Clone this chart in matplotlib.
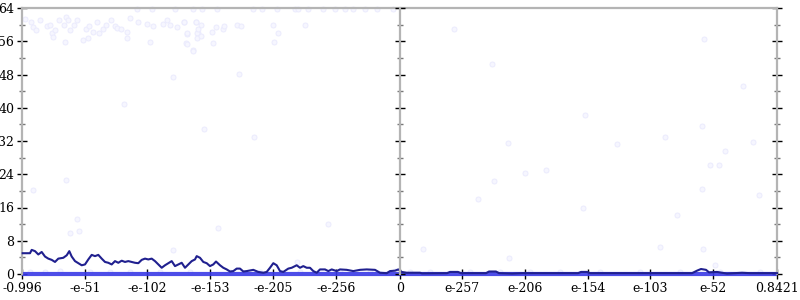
import matplotlib
matplotlib.use('Agg')
import matplotlib.pyplot as plt
from matplotlib.ticker import MultipleLocator

# ---- data ----
tick_pos = [0, 63, 125, 188, 251, 314, 378, 440, 503, 566, 628, 691, 755]
tick_labels = ['-0.996', '-e-51', '-e-102', '-e-153', '-e-205', '-e-256', '0',
               'e-257', 'e-206', 'e-154', 'e-103', 'e-52', '0.8421']

err_x = [0.7, 8, 9.7, 13, 16.3, 19.7, 23, 26.3, 29.7, 33, 36.3, 41.3, 44.7, 47.3, 49.7, 53,
         56.3, 59.7, 63, 66.3, 69.7, 73, 76.3, 79.7, 83, 86.3, 89.7, 93, 96.3, 99.7, 103,
         106.3, 109.7, 113, 116.3, 119.7, 123, 126.3, 129.7, 133, 136.3, 139.7, 143, 146.3,
         149.7, 153, 156.3, 159.7, 163, 166.3, 169.7, 173, 174.7,
         178, 181.3, 184.7, 188, 191.3, 194, 198, 201.3, 204.7, 208, 211.3, 214.7, 218, 221.3,
         224.7, 231.3, 236.3, 241.3, 244.7, 248, 251.3, 254.7, 258, 261.3, 266.3, 269.7, 274.7,
         278, 281.3, 284.7, 288, 291.3, 294.7, 298, 303, 306.3, 309.7, 314.7, 318, 324.7, 331.3,
         338, 344.7, 353, 358, 364.7, 368, 373, 376.3, 379.7, 384.7,
         398, 400, 425, 428, 436, 439, 464, 467, 474, 477, 490, 500, 520, 556, 559, 565, 568,
         600, 640, 670, 675, 679, 684, 687, 695, 705, 720, 728, 755]
err_y = [5.0, 5.0, 5.8, 5.5, 4.7, 5.3, 4.2, 3.7, 3.4, 2.9, 3.7, 3.9, 4.5, 5.5, 4.2, 3.1,
         2.6, 2.1, 2.3, 3.5, 4.6, 4.3, 4.6, 3.7, 2.9, 2.7, 2.3, 3.1, 2.7, 3.2, 2.9,
         3.1, 2.9, 2.7, 2.6, 3.4, 3.7, 3.5, 3.7, 3.1, 2.3, 1.5, 2.1, 2.6,
         3.1, 1.9, 2.3, 2.7, 1.5, 2.3, 3.1, 3.5, 4.3,
         3.9, 2.9, 2.6, 1.9, 2.3, 3.0, 2.1, 1.5, 1.1, 0.6, 0.7, 1.3, 1.3, 0.6,
         0.7, 1.0, 0.5, 0.3, 0.5, 1.5, 2.6, 2.1, 0.7, 0.5, 1.3, 1.5, 2.1,
         1.5, 1.9, 1.5, 1.5, 0.7, 0.3, 1.1, 1.1, 0.7, 1.1, 0.7, 1.1, 1.0, 0.7,
         1.0, 1.1, 1.0, 0.3, 0.2, 0.7, 0.8, 1.1, 0.5, 0.3,
         0.3, 0.15, 0.2, 0.5, 0.5, 0.2, 0.2, 0.6, 0.6, 0.2, 0.1, 0.2, 0.2, 0.2, 0.5, 0.5, 0.2,
         0.2, 0.2, 0.2, 0.8, 1.2, 1.0, 0.4, 0.5, 0.1, 0.3, 0.2, 0.2]

base_x = [0, 100, 200, 300, 400, 500, 600, 700, 755]
base_y = [0, 0, 0, 0, 0, 0, 0, 0, 0]

pt_x = [3, 8.7, 11.3, 18, 14, 24.7, 28, 29.7, 31.3, 33, 37.3, 42, 44, 46.3, 48, 52, 55.3, 43,
        60.7, 64, 67.3, 66.3, 71.3, 74.7, 77.3, 81.3, 84, 88.7, 93, 95.3, 98.7, 104.7, 105.3,
        108, 116.3, 124.7, 128, 131.3, 141.3, 144.7, 148, 154.7, 162, 164.7, 164, 170.7, 174,
        176.3, 151.3, 115, 130, 153,
        171, 180, 195, 231, 240, 255, 273, 276, 286, 301, 313, 323, 331, 343, 355, 371,
        162, 174, 179, 165, 175, 176, 175, 179, 165, 171, 190, 194, 191, 201, 202, 215, 219,
        251, 256, 252, 283, 217, 182, 232,
        102, 44, 11, 55, 48, 57, 151, 196, 306, 275,
        432, 470, 563, 682, 721, 680, 643,
        486, 472, 456, 503, 524, 561, 595, 655, 680, 688, 697, 703, 731, 737, 401, 638, 681,
        487, 693,
        8, 23, 38, 68, 88, 108, 138, 168, 208, 238, 278, 318, 348, 373, 388, 408, 448, 478,
        508, 538, 578, 618, 658, 698, 738]
pt_y = [61.4, 60.7, 59.5, 61.1, 58.6, 59.7, 59.9, 57.9, 57.0, 58.6, 61.1, 59.9, 61.8, 61.0,
        58.6, 59.9, 61.0, 55.9,
        56.2, 58.9, 59.7, 56.7, 58.3, 60.7, 58.1, 58.9, 59.9, 61.0, 59.7, 59.1, 58.9, 58.3, 56.7,
        61.5, 60.7, 60.2, 55.7, 59.7, 60.2, 61.0, 59.9, 59.4, 60.7, 57.8, 55.5, 53.9, 60.7,
        57.9, 47.4, 63.8, 63.8, 63.8,
        63.8, 63.8, 63.8, 63.8, 63.8, 63.8, 63.8, 63.8, 63.8, 63.8, 63.8, 63.8, 63.8, 63.8, 63.8, 63.8,
        60.6, 60.6, 59.9, 58.0, 58.0, 58.9, 56.8, 57.3, 55.3, 53.7, 58.2, 59.4, 55.6, 59.0, 59.7, 59.9, 59.7,
        59.9, 58.0, 55.8, 59.9, 48.1, 34.9, 33.0,
        40.9, 22.6, 20.2, 13.2, 9.9, 10.4, 5.8, 11.1, 12.0, 2.9,
        59.0, 50.5, 38.3, 56.5, 45.2, 35.6, 33.0,
        31.5, 22.4, 18.0, 24.3, 25.0, 15.9, 31.3, 14.2, 20.5, 26.2, 26.2, 29.6, 31.8, 19.0, 6.0, 6.5, 6.0,
        3.8, 2.2,
        0.6, 0.4, 0.7, 0.5, 0.4, 0.6, 0.5, 0.4, 0.6, 0.5, 0.4, 0.6, 0.5, 0.7, 0.4, 0.6, 0.5, 0.4,
        0.6, 0.5, 0.4, 0.6, 0.5, 0.4, 0.6]

# ---- style ----
plt.rcParams['font.family'] = ['DejaVu Serif']
plt.rcParams['font.size'] = 9
spine_col = '#b4b4b4'

fig = plt.figure(figsize=(8, 3), dpi=100)
bottom, height = 26 / 300, 266 / 300
ax = fig.add_axes([22 / 800, bottom, 755 / 800, height])

ax.scatter(pt_x, pt_y, s=13, facecolor='#f6f6ff', edgecolor='#ebebfd', linewidth=0.7,
           zorder=1, clip_on=False)
ax.plot(base_x, base_y, color='#3a3ae6', lw=3, alpha=0.9, zorder=2, clip_on=False,
        solid_capstyle='butt')
ax.plot(err_x, err_y, color='#20208f', lw=1.5, zorder=3, clip_on=False)

ax.set_xlim(0, 755)
ax.set_ylim(0, 64)

for s in ['left', 'right', 'top']:
    ax.spines[s].set_color(spine_col)
    ax.spines[s].set_linewidth(1.6)
ax.spines['bottom'].set_visible(False)

ax.yaxis.set_major_locator(MultipleLocator(8))
ax.yaxis.set_minor_locator(MultipleLocator(4))
ax.tick_params(axis='y', which='major', direction='inout', length=7, width=1,
               color='black', left=True, right=True, labelleft=True, pad=2)
ax.tick_params(axis='y', which='minor', direction='inout', length=4, width=1,
               color='#777777', left=True, right=True)

ax.set_xticks(tick_pos)
ax.set_xticklabels(tick_labels)
ax.tick_params(axis='x', which='major', direction='inout', length=7, width=1,
               color='black', pad=2)

# middle vertical axis at the 0 tick
axm = fig.add_axes([400 / 800, bottom, 1e-5, height])
axm.set_ylim(0, 64)
axm.patch.set_visible(False)
for s in ['right', 'top', 'bottom']:
    axm.spines[s].set_visible(False)
axm.spines['left'].set_color(spine_col)
axm.spines['left'].set_linewidth(1.6)
axm.set_xticks([])
axm.yaxis.set_major_locator(MultipleLocator(8))
axm.yaxis.set_minor_locator(MultipleLocator(4))
axm.tick_params(axis='y', which='major', direction='inout', length=7, width=1,
                color='black', labelleft=False)
axm.tick_params(axis='y', which='minor', direction='inout', length=4, width=1,
                color='#777777')

fig.savefig('out.png', dpi=100)
